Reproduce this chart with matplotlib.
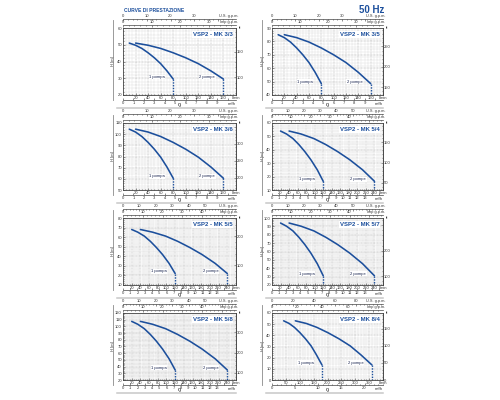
import numpy as np
import matplotlib.pyplot as plt
from matplotlib.lines import Line2D
from matplotlib.ticker import MultipleLocator

plt.rcParams['font.family'] = ['Liberation Sans', 'DejaVu Sans']

# one panel per pump model, left to right, top to bottom
models = ['VSP2 - MK 3/3', 'VSP2 - MK 3/5', 'VSP2 - MK 3/6', 'VSP2 - MK 5/4',
          'VSP2 - MK 5/5', 'VSP2 - MK 5/7', 'VSP2 - MK 5/8', 'VSP2 - MK 8/4']

# axis ranges: flow Q in l/min, head H in m
q_max = [180, 180, 180, 260, 260, 260, 260, 400]
h_min = [20, 40, 50, 10, 10, 20, 20, 0]
h_max = [60, 90, 110, 60, 80, 100, 120, 60]

# tick steps
q_step = [20, 20, 20, 20, 20, 20, 20, 50]
m3_step = [1, 1, 1, 1, 1, 1, 1, 5]
gpm_step = [10, 10, 10, 10, 10, 10, 10, 20]
ft_step = [50, 50, 50, 50, 100, 100, 100, 50]

# curve "1 pompa" (l/min)
q_one = [
    [10, 20, 30, 40, 50, 60, 70, 80],
    [10, 20, 30, 40, 50, 60, 70, 80],
    [10, 20, 30, 40, 50, 60, 70, 80],
    [20, 34, 49, 63, 77, 91, 106, 120],
    [20, 34, 49, 63, 77, 91, 106, 120],
    [20, 34, 49, 63, 77, 91, 106, 120],
    [20, 34, 49, 63, 77, 91, 106, 120],
    [42, 62, 81, 101, 121, 141, 160, 180],
]
# curve "2 pompe" (l/min)
q_two = [
    [20, 40, 60, 80, 100, 120, 140, 160],
    [20, 40, 60, 80, 100, 120, 140, 160],
    [20, 40, 60, 80, 100, 120, 140, 160],
    [40, 68, 98, 126, 154, 182, 212, 240],
    [40, 68, 98, 126, 154, 182, 212, 240],
    [40, 68, 98, 126, 154, 182, 212, 240],
    [40, 68, 98, 126, 154, 182, 212, 240],
    [84, 124, 162, 202, 242, 282, 320, 360],
]
# head (m), same for both curves
head = [
    [51, 49.7, 47.8, 45.2, 42.2, 38.7, 34.4, 29.5],
    [85, 82.8, 79.5, 75.1, 70.0, 64.2, 56.9, 48.5],
    [104.5, 101.9, 97.9, 92.6, 86.5, 79.4, 70.6, 60.5],
    [54, 51.8, 48.4, 43.9, 38.6, 32.6, 25.1, 16.5],
    [68, 65.2, 61.1, 55.6, 49.1, 41.8, 32.6, 22],
    [94, 90.2, 84.6, 77.0, 68.2, 58.1, 45.5, 31],
    [107.5, 103.2, 96.6, 87.9, 77.8, 66.2, 51.7, 35],
    [53, 50.6, 47.1, 42.3, 36.8, 30.5, 22.6, 13.5],
]

BLUE = '#1c4f9c'
W, H = 500, 400
col_x = [123, 272]
col_w = [113, 111]
row_top = [28, 123, 218, 313]
ph = 67

fig = plt.figure(figsize=(5, 4), dpi=100)


def px_line(x0, y0, x1, y1, **kw):
    fig.add_artist(Line2D([x0 / W, x1 / W], [1 - y0 / H, 1 - y1 / H],
                          transform=fig.transFigure, **kw))


def unit_ticks(axis, step, top, minor=None, start=0, keep=0.88):
    ticks = np.arange(start, top, step)
    labels = ['%g' % t if t < keep * top else '' for t in ticks]
    axis.set_ticks(ticks, labels)
    if minor:
        axis.set_minor_locator(MultipleLocator(minor))


def style_sec(sec):
    sec.tick_params(which='both', direction='in', labelsize=3, length=1.5,
                    width=0.4, pad=0.5, colors='#333333')
    sec.tick_params(which='minor', length=0.8)
    for s in sec.spines.values():
        s.set_linewidth(0.5)
        s.set_color('#444444')


fig.text(124 / W, 1 - 10.5 / H, 'CURVE DI PRESTAZIONE', fontsize=3.6,
         fontweight='bold', color=BLUE, va='center')
fig.text(384 / W, 1 - 10 / H, '50 Hz', fontsize=7, fontweight='bold',
         color=BLUE, ha='right', va='center')

for i, name in enumerate(models):
    row, col = divmod(i, 2)
    x0, w, y0 = col_x[col], col_w[col], row_top[row]
    ax = fig.add_axes([x0 / W, 1 - (y0 + ph) / H, w / W, ph / H])

    ax.set_xlim(0, q_max[i])
    ax.set_ylim(h_min[i], h_max[i])
    xt = list(range(q_step[i], q_max[i] + 1, q_step[i]))
    ax.set_xticks(xt, [str(t) for t in xt[:-1]] + ['l/min'])
    ax.set_yticks(range(h_min[i], h_max[i] + 1, 10))
    ax.xaxis.set_minor_locator(MultipleLocator(5 if q_step[i] == 20 else 10))
    ax.yaxis.set_minor_locator(MultipleLocator(2))
    ax.tick_params(which='both', direction='in', labelsize=3, width=0.4,
                   length=1.5, pad=0.8, colors='#333333')
    ax.tick_params(which='minor', length=0.8)
    ax.grid(which='major', color='#a8a8a8', lw=0.35, ls=(0, (2, 1)))
    ax.grid(which='minor', color='#cccccc', lw=0.3, ls=(0, (2, 1)))
    for s in ax.spines.values():
        s.set_linewidth(0.6)
        s.set_color('#444444')

    # curves
    ax.plot(q_one[i], head[i], color=BLUE, lw=1.15, solid_capstyle='round', zorder=3)
    ax.plot(q_two[i], head[i], color=BLUE, lw=1.15, solid_capstyle='round', zorder=3)
    for q, lab in ((q_one[i][-1], '1 pompa'), (q_two[i][-1], '2 pompe')):
        ax.plot([q, q], [head[i][-1], h_min[i]], color=BLUE, lw=1.0,
                ls=(0, (1, 1)), zorder=3)
        ax.annotate(lab, (q, head[i][-1]), xytext=(-6, 1.5), textcoords='offset points',
                    ha='right', va='center', fontsize=3, color='#1a2550',
                    bbox=dict(fc='white', ec='none', pad=0.3), zorder=4)

    ax.text(0.97, 0.9, name, transform=ax.transAxes, ha='right', va='center',
            fontsize=4.3, fontweight='bold', color=BLUE,
            bbox=dict(fc='white', ec='none', pad=0.5), zorder=5)

    # m3/h under the l/min scale
    m3 = ax.secondary_xaxis(-5 / ph, functions=(lambda q: q * 0.06, lambda v: v / 0.06))
    unit_ticks(m3.xaxis, m3_step[i], q_max[i] * 0.06, 1 if m3_step[i] == 5 else None)
    style_sec(m3)
    ax.text(1.0, -5 / ph - 0.03, 'm³/h', transform=ax.transAxes, ha='right',
            va='top', fontsize=3, color='#333333')

    # gallons on top
    imp = ax.secondary_xaxis(1 + 3 / ph, functions=(lambda q: q / 4.546, lambda g: g * 4.546))
    unit_ticks(imp.xaxis, gpm_step[i], q_max[i] / 4.546, gpm_step[i] / 5, keep=0.78)
    style_sec(imp)
    us = ax.secondary_xaxis(1 + 9 / ph, functions=(lambda q: q / 3.785, lambda g: g * 3.785))
    unit_ticks(us.xaxis, gpm_step[i], q_max[i] / 3.785, gpm_step[i] / 5, keep=0.78)
    style_sec(us)
    ax.text(1.02, 1 + 3 / ph + 0.02, 'Imp g.p.m.', transform=ax.transAxes, ha='right',
            va='bottom', fontsize=2.8, color='#333333')
    ax.text(1.02, 1 + 9 / ph + 0.02, 'U.S. g.p.m.', transform=ax.transAxes, ha='right',
            va='bottom', fontsize=2.8, color='#333333')

    # feet on the right
    ft = ax.secondary_yaxis('right', functions=(lambda m: m * 3.281, lambda f: f / 3.281))
    lo = np.ceil(h_min[i] * 3.281 / ft_step[i]) * ft_step[i]
    unit_ticks(ft.yaxis, ft_step[i], h_max[i] * 3.281, ft_step[i] / 5, start=lo)
    style_sec(ft)
    ax.text(1.03, 1.0, 'ft', transform=ax.transAxes, ha='left', va='center',
            fontsize=3, color='#333333')

    ax.text(-0.085, 0.5, 'H [m]', transform=ax.transAxes, rotation=90, ha='center',
            va='center', fontsize=3, color='#333333')
    ax.text(0.5, -10.2 / ph, 'Q', transform=ax.transAxes, ha='center', va='center',
            fontsize=3, fontweight='bold', color='#333333')

    px_line(x0 - 10, y0 - 8, x0 - 10, y0 + ph + 5, color='#8a8a8a', lw=0.6)
    px_line(x0 - 6, y0 + ph + 12.5, x0 + w, y0 + ph + 12.5, color='#c8c8c8', lw=1.1)

fig.savefig('out.png', dpi=100)
